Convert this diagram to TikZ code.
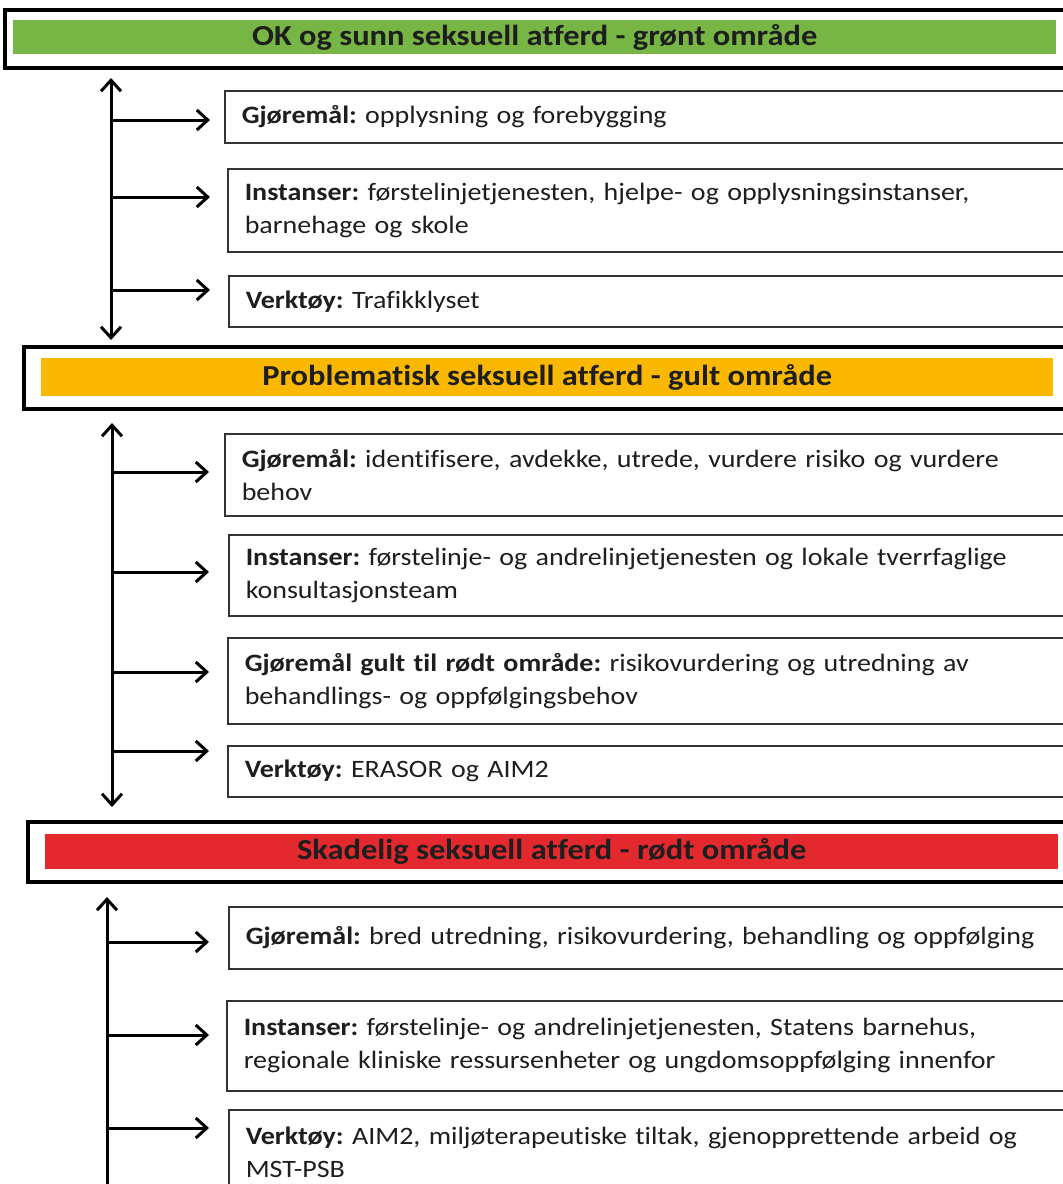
\documentclass[tikz,border=0pt]{standalone}
\usepackage{fontspec}
\setmainfont{Carlito}[FakeStretch=1.12, Ligatures=NoCommon]
\usetikzlibrary{arrows.meta}
\definecolor{gronn}{HTML}{77B545}
\definecolor{gul}{HTML}{FAB800}
\definecolor{rod}{HTML}{E3282E}
\definecolor{tekst}{HTML}{1E1E1E}
\begin{document}
\frenchspacing
\begin{tikzpicture}[x=1pt,y=-1pt,
  frame/.style={draw=black, line width=4pt},
  bar/.style={anchor=north west, inner sep=0pt, minimum height=#1, text=tekst,
              font=\fontsize{29}{32}\selectfont\bfseries},
  itembox/.style={draw=black!80, line width=1.5pt, fill=white, anchor=north west,
                  inner xsep=17pt, inner ysep=0pt, text width=820pt, align=left,
                  minimum height=#1, text=tekst,
                  font=\fontsize{25}{33}\selectfont},
  conn/.style={line width=3pt, -{Straight Barb[length=11pt,width=20pt,line width=3pt]}},
  spine/.style={line width=3pt, {Straight Barb[length=11pt,width=20pt,line width=3pt]}-{Straight Barb[length=11pt,width=20pt,line width=3pt]}},
  spineup/.style={line width=3pt, {Straight Barb[length=11pt,width=20pt,line width=3pt]}-}
]
\useasboundingbox (0,0) rectangle (1063,1184);
\clip (0,0) rectangle (1063,1184);
\fill[white] (0,0) rectangle (1063,1184);

% ---------- Section 1 ----------
\draw[frame] (5,10) rectangle (1090,68);
\node[bar=34pt, fill=gronn, minimum width=1043pt] (h1) at (13,20) {OK og sunn seksuell atferd - grønt område};

\node[itembox=52pt] (b11) at (224,90) {\textbf{Gjøremål:} opplysning og forebygging};
\node[itembox=83pt] (b12) at (227,168) {\textbf{Instanser:} førstelinjetjenesten, hjelpe- og opplysningsinstanser,\\ barnehage og skole};
\node[itembox=51pt] (b13) at (228,275) {\textbf{Verktøy:} Trafikklyset};

\coordinate (s1t) at (111,78);
\coordinate (s1b) at (111,340);
\draw[spine] (s1t) -- (s1b);
\coordinate (s11) at (111,120);
\coordinate (s12) at (111,197);
\coordinate (s13) at (111,290);
\draw[conn] (s11) -- ([xshift=-14pt]b11.west |- s11);
\draw[conn] (s12) -- ([xshift=-17pt]b12.west |- s12);
\draw[conn] (s13) -- ([xshift=-18pt]b13.west |- s13);

% ---------- Section 2 ----------
\draw[frame] (24,347) rectangle (1090,409);
\node[bar=38pt, fill=gul, minimum width=1012pt] (h2) at (41,358) {Problematisk seksuell atferd - gult område};

\node[itembox=82pt] (b21) at (224,433) {\textbf{Gjøremål:} identifisere, avdekke, utrede, vurdere risiko og vurdere\\ behov};
\node[itembox=81pt] (b22) at (228,534) {\textbf{Instanser:} førstelinje- og andrelinjetjenesten og lokale tverrfaglige\\ konsultasjonsteam};
\node[itembox=86pt] (b23) at (227,637) {\textbf{Gjøremål gult til rødt område:} risikovurdering og utredning av\\ behandlings- og oppfølgingsbehov};
\node[itembox=51pt] (b24) at (227,745) {\textbf{Verktøy:} ERASOR og AIM2};

\coordinate (s2t) at (112,423);
\coordinate (s2b) at (112,807);
\draw[spine] (s2t) -- (s2b);
\coordinate (s21) at (112,472);
\coordinate (s22) at (112,572);
\coordinate (s23) at (112,672);
\coordinate (s24) at (112,751);
\draw[conn] (s21) -- ([xshift=-15pt]b21.west |- s21);
\draw[conn] (s22) -- ([xshift=-19pt]b22.west |- s22);
\draw[conn] (s23) -- ([xshift=-18pt]b23.west |- s23);
\draw[conn] (s24) -- ([xshift=-18pt]b24.west |- s24);

% ---------- Section 3 ----------
\draw[frame] (28,822) rectangle (1090,882);
\node[bar=35pt, fill=rod, minimum width=1013pt] (h3) at (45,834) {Skadelig seksuell atferd - rødt område};

\node[itembox=62pt] (b31) at (228,906) {\textbf{Gjøremål:} bred utredning, risikovurdering, behandling og oppfølging};
\node[itembox=90pt] (b32) at (226,1000) {\textbf{Instanser:} førstelinje- og andrelinjetjenesten, Statens barnehus,\\ regionale kliniske ressursenheter og ungdomsoppfølging innenfor};
\node[itembox=86pt] (b33) at (228,1109) {\textbf{Verktøy:} AIM2, miljøterapeutiske tiltak, gjenopprettende arbeid og\\ MST-PSB};

\coordinate (s3t) at (107,897);
\coordinate (s3b) at (107,1200);
\draw[spineup] (s3t) -- (s3b);
\coordinate (s31) at (107,942);
\coordinate (s32) at (107,1035);
\coordinate (s33) at (107,1128);
\draw[conn] (s31) -- ([xshift=-19pt]b31.west |- s31);
\draw[conn] (s32) -- ([xshift=-17pt]b32.west |- s32);
\draw[conn] (s33) -- ([xshift=-19pt]b33.west |- s33);
\end{tikzpicture}
\end{document}
